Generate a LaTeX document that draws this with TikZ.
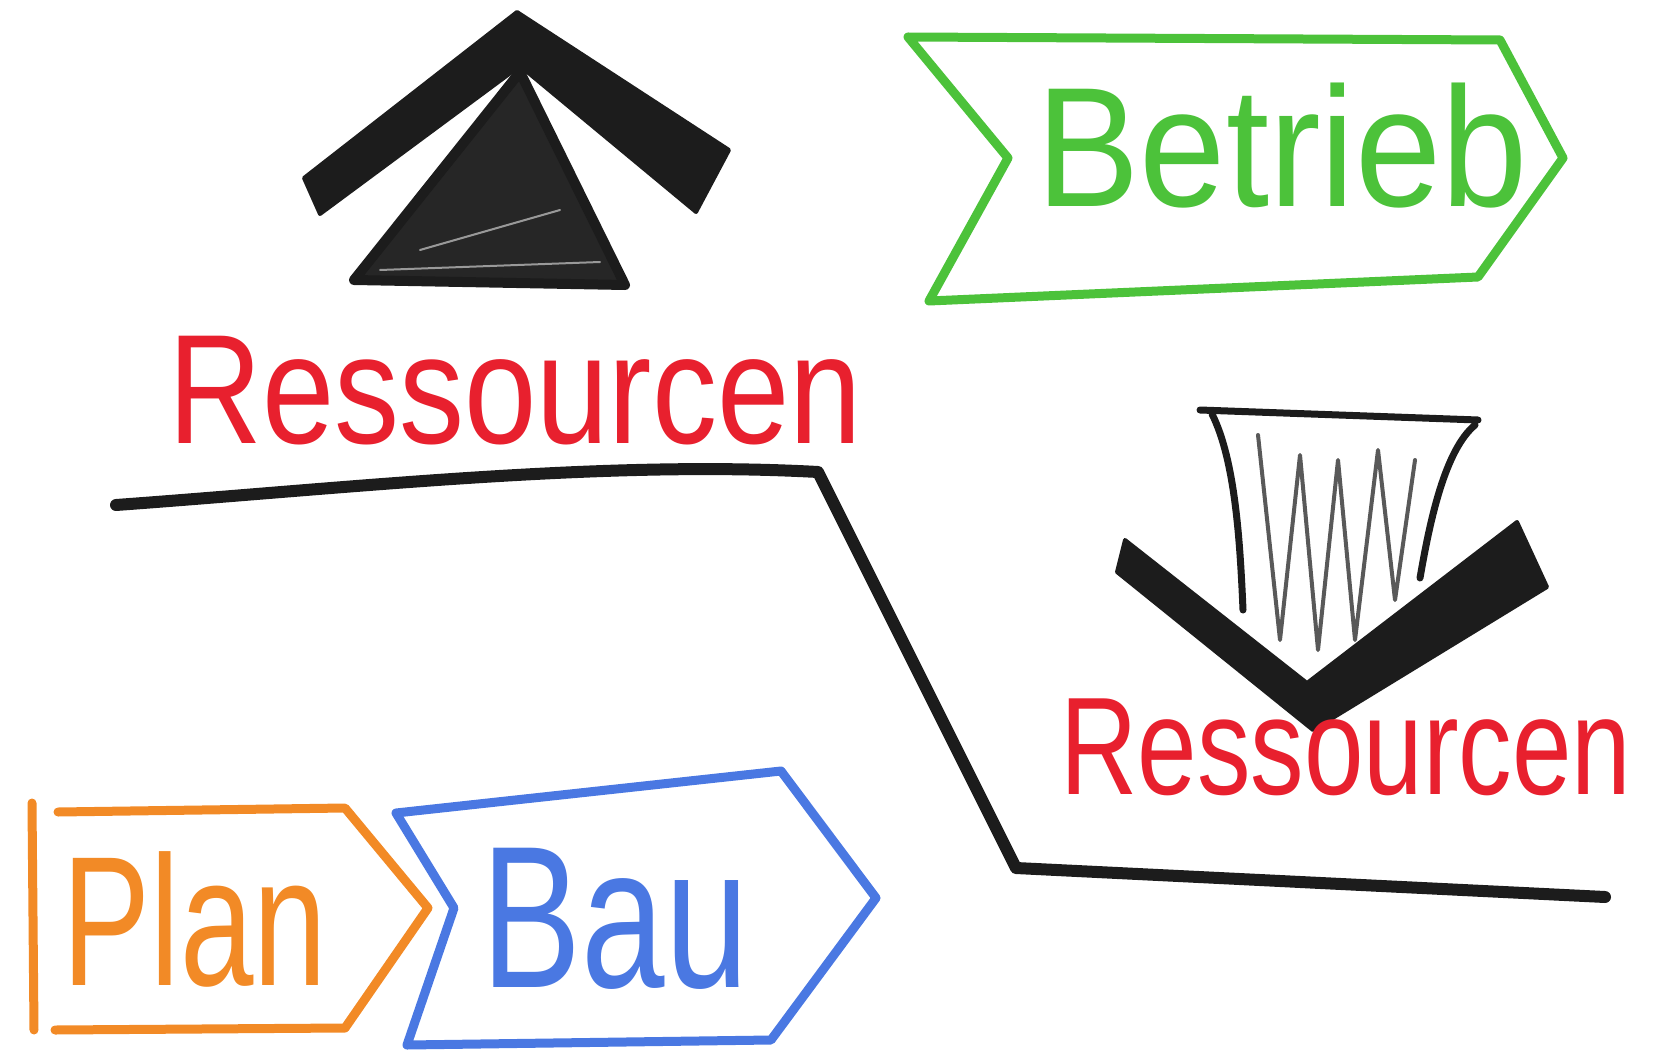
\documentclass[tikz,border=0pt]{standalone}
\usepackage{fontspec}
\setmainfont{Liberation Sans}
\definecolor{crred}{HTML}{E8202E}
\definecolor{crgreen}{HTML}{4CC23A}
\definecolor{crorange}{HTML}{F28A26}
\definecolor{crblue}{HTML}{4A78E2}
\definecolor{crblack}{HTML}{1C1C1C}
\begin{document}
\begin{tikzpicture}[x=1pt,y=-1pt,line cap=round,line join=round,
  crayon/.style={line width=9pt},
  inkline/.style={draw=crblack,line width=12pt},
  arrowfill/.style={fill=crblack,draw=crblack,line width=4pt},
  scribble/.style={draw=black!65,line width=4pt},
  lbl/.style={anchor=base,inner sep=0pt}]
\useasboundingbox (0,0) rectangle (1656,1051);
% up arrow
\path[arrowfill] (304,178) -- (517,12) -- (729,150) -- (696,212) -- (520,66) -- (320,214) -- cycle;
\path[draw=crblack,fill=black!85,line width=10pt] (354,280) -- (520,72) -- (625,285) -- cycle;
\draw[draw=white!60!black,line width=2pt] (380,270) -- (600,262) (420,250) -- (560,210);
% red label top
\node[lbl,text=crred,font=\fontsize{130}{130}\selectfont] (res1) at (515,443) {\scalebox{1}[1.2]{Ressourcen}};
% black path line
\coordinate (l0) at (116,505);
\coordinate (l1) at (818,472);
\coordinate (l2) at (1016,868);
\coordinate (l3) at (1605,897);
\draw[inkline] (l0) .. controls (350,488) and (600,460) .. (l1) -- (l2) -- (l3);
% Betrieb
\draw[crayon,draw=crgreen] (908,37) -- (1500,40) -- (1563,158) -- (1478,277) -- (929,301) -- (1008,158) -- cycle;
\node[lbl,text=crgreen,font=\fontsize{155}{155}\selectfont] (betrieb) at (1282,206) {\scalebox{1}[1.1]{Betrieb}};
% down arrow
\draw[crblack,line width=7pt] (1200,410) -- (1478,420);
\draw[crblack,line width=7pt] (1212,414) .. controls (1235,460) and (1240,540) .. (1243,610);
\draw[crblack,line width=7pt] (1475,425) .. controls (1445,450) and (1430,520) .. (1420,578);
\draw[scribble] (1258,435) -- (1280,640) -- (1300,455) -- (1318,650) -- (1338,460) -- (1355,640) -- (1378,450) -- (1395,600) -- (1415,460);
\path[arrowfill] (1125,540) -- (1307,683) -- (1517,522) -- (1547,587) -- (1313,730) -- (1117,572) -- cycle;
\node[lbl,text=crred,font=\fontsize{107}{107}\selectfont] (res2) at (1346,794) {\scalebox{1}[1.3]{Ressourcen}};
% Plan
\draw[crayon,draw=crorange] (32,803) -- (34,1030);
\draw[crayon,draw=crorange] (58,812) -- (345,808) -- (428,908) -- (345,1028) -- (55,1030);
\node[lbl,text=crorange,font=\fontsize{132}{132}\selectfont] (plan) at (195,985) {\scalebox{1}[1.4]{Plan}};
% Bau
\draw[crayon,draw=crblue] (396,813) -- (781,771) -- (876,898) -- (771,1040) -- (407,1045) -- (454,908) -- cycle;
\node[lbl,text=crblue,font=\fontsize{150}{150}\selectfont] (bau) at (615,987) {\scalebox{1}[1.35]{Bau}};
\end{tikzpicture}
\end{document}
